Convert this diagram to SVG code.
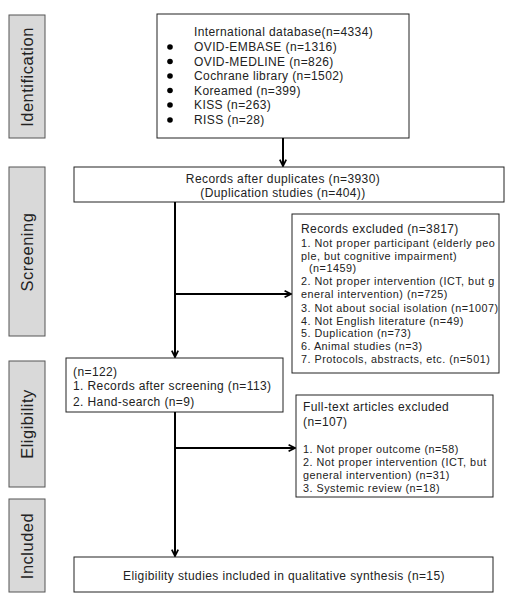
<svg xmlns="http://www.w3.org/2000/svg" width="508" height="602" viewBox="0 0 508 602">
<defs>
<marker id="arr" viewBox="0 0 10 10" refX="9" refY="5" markerWidth="4" markerHeight="4" orient="auto" markerUnits="strokeWidth">
<path d="M1,1 L9,5 L1,9" fill="none" stroke="#000" stroke-width="2.2"/>
</marker>
</defs>
<style>
.box{fill:#fff;stroke:#222;stroke-width:1}
.lab{fill:#d9d9d9;stroke:#555;stroke-width:1}
.t{font-family:"Liberation Sans",Arial,sans-serif;font-size:12px;letter-spacing:0.4px;fill:#222}
.s{font-family:"Liberation Sans",Arial,sans-serif;font-size:10.8px;letter-spacing:0.5px;fill:#222}
.lt{font-family:"Liberation Sans",Arial,sans-serif;font-size:16.5px;letter-spacing:0.5px;fill:#222}
.c{fill:none;stroke:#000;stroke-width:2}
</style>
<rect width="508" height="602" fill="#fff"/>

<g id="stage-identification"><rect class="lab" x="9" y="15" width="36" height="123"/><text class="lt" transform="translate(33,77) rotate(-90)" text-anchor="middle">Identification</text></g>
<g id="stage-screening"><rect class="lab" x="9" y="167" width="36" height="169"/><text class="lt" transform="translate(33,252) rotate(-90)" text-anchor="middle">Screening</text></g>
<g id="stage-eligibility"><rect class="lab" x="9" y="361" width="36" height="126"/><text class="lt" transform="translate(33,424) rotate(-90)" text-anchor="middle">Eligibility</text></g>
<g id="stage-included"><rect class="lab" x="9" y="499" width="36" height="93"/><text class="lt" transform="translate(33,546) rotate(-90)" text-anchor="middle">Included</text></g>

<g id="databases">
<rect class="box" x="157" y="14" width="252" height="124"/>
<text class="t" x="194" y="36">International database(n=4334)</text>
<g fill="#000"><circle cx="170" cy="47" r="2.8"/><circle cx="170" cy="61.5" r="2.8"/><circle cx="170" cy="76" r="2.8"/><circle cx="170" cy="90.5" r="2.8"/><circle cx="170" cy="105" r="2.8"/><circle cx="170" cy="120" r="2.8"/></g>
<text class="t" x="194" y="51">OVID-EMBASE (n=1316)</text>
<text class="t" x="194" y="65.5">OVID-MEDLINE (n=826)</text>
<text class="t" x="194" y="80">Cochrane library (n=1502)</text>
<text class="t" x="194" y="94.5">Koreamed (n=399)</text>
<text class="t" x="194" y="109">KISS (n=263)</text>
<text class="t" x="194" y="124">RISS (n=28)</text>
</g>

<g id="after-duplicates">
<rect class="box" x="74" y="167" width="430" height="35"/>
<text class="t" x="283" y="183" text-anchor="middle">Records after duplicates (n=3930)</text>
<text class="t" x="283" y="197" text-anchor="middle">(Duplication studies (n=404))</text>
</g>

<g id="records-excluded">
<rect class="box" x="292" y="214" width="207" height="159"/>
<text class="t" x="301" y="233">Records excluded (n=3817)</text>
<text class="s" x="301" y="247">1. Not proper participant (elderly peo</text>
<text class="s" x="301" y="260">ple, but cognitive impairment)</text>
<text class="s" x="309" y="272">(n=1459)</text>
<text class="s" x="301" y="285">2. Not proper intervention (ICT, but g</text>
<text class="s" x="301" y="298">eneral intervention) (n=725)</text>
<text class="s" x="301" y="311.5">3. Not about social isolation (n=1007)</text>
<text class="s" x="301" y="324.5">4. Not English literature (n=49)</text>
<text class="s" x="301" y="337">5. Duplication (n=73)</text>
<text class="s" x="301" y="350">6. Animal studies (n=3)</text>
<text class="s" x="301" y="363">7. Protocols, abstracts, etc. (n=501)</text>
</g>

<g id="screened">
<rect class="box" x="66" y="358" width="217" height="54"/>
<text class="t" x="73" y="376">(n=122)</text>
<text class="t" x="73" y="390">1. Records after screening (n=113)</text>
<text class="t" x="73" y="406">2. Hand-search (n=9)</text>
</g>

<g id="fulltext-excluded">
<rect class="box" x="296" y="395" width="197" height="102"/>
<text class="t" x="303" y="411">Full-text articles excluded</text>
<text class="t" x="303" y="426">(n=107)</text>
<text class="s" x="303" y="452.5">1. Not proper outcome (n=58)</text>
<text class="s" x="303" y="465.5">2. Not proper intervention (ICT, but</text>
<text class="s" x="303" y="479">general intervention) (n=31)</text>
<text class="s" x="303" y="492">3. Systemic review (n=18)</text>
</g>

<g id="included">
<rect class="box" x="74" y="557" width="419" height="35"/>
<text class="t" x="284" y="580" text-anchor="middle">Eligibility studies included in qualitative synthesis (n=15)</text>
</g>

<g id="connectors">
<line class="c" x1="283" y1="138" x2="283" y2="166" marker-end="url(#arr)"/>
<line class="c" x1="175" y1="202" x2="175" y2="357" marker-end="url(#arr)"/>
<line class="c" x1="175" y1="294" x2="291" y2="294" marker-end="url(#arr)"/>
<line class="c" x1="175" y1="412" x2="175" y2="556" marker-end="url(#arr)"/>
<line class="c" x1="175" y1="448" x2="295" y2="448" marker-end="url(#arr)"/>
</g>
</svg>
